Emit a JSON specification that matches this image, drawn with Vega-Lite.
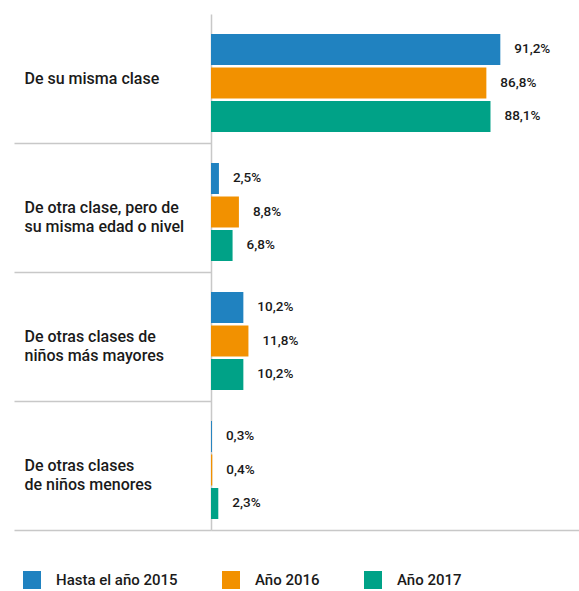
{
  "$schema": "https://vega.github.io/schema/vega-lite/v6.json",
  "width": 368,
  "height": 516,
  "autosize": {"type": "none"},
  "padding": {"left": 211, "top": 14, "right": 0, "bottom": 61},
  "config": {"view": {"stroke": null}, "font": "Roboto"},
  "data": {"values": [
    {"grupo": "De su misma clase", "serie": "Hasta el año 2015", "valor": 91.2},
    {"grupo": "De su misma clase", "serie": "Año 2016", "valor": 86.8},
    {"grupo": "De su misma clase", "serie": "Año 2017", "valor": 88.1},
    {"grupo": "De otra clase, pero de|su misma edad o nivel", "serie": "Hasta el año 2015", "valor": 2.5},
    {"grupo": "De otra clase, pero de|su misma edad o nivel", "serie": "Año 2016", "valor": 8.8},
    {"grupo": "De otra clase, pero de|su misma edad o nivel", "serie": "Año 2017", "valor": 6.8},
    {"grupo": "De otras clases de|niños más mayores", "serie": "Hasta el año 2015", "valor": 10.2},
    {"grupo": "De otras clases de|niños más mayores", "serie": "Año 2016", "valor": 11.8},
    {"grupo": "De otras clases de|niños más mayores", "serie": "Año 2017", "valor": 10.2},
    {"grupo": "De otras clases|de niños menores", "serie": "Hasta el año 2015", "valor": 0.3},
    {"grupo": "De otras clases|de niños menores", "serie": "Año 2016", "valor": 0.4},
    {"grupo": "De otras clases|de niños menores", "serie": "Año 2017", "valor": 2.3}
  ]},
  "transform": [
    {"calculate": "replace(format(datum.valor, '.1f'), '.', ',') + '%'", "as": "etiqueta"}
  ],
  "encoding": {
    "y": {
      "field": "grupo", "type": "nominal",
      "sort": ["De su misma clase", "De otra clase, pero de|su misma edad o nivel", "De otras clases de|niños más mayores", "De otras clases|de niños menores"],
      "scale": {"paddingInner": 0, "paddingOuter": 0},
      "axis": {
        "title": null,
        "bandPosition": 1,
        "tickSize": 197,
        "tickColor": "#c8c8c8",
        "tickWidth": 1.5,
        "domainColor": "#c8c8c8",
        "domainWidth": 1.5,
        "labelAlign": "left",
        "labelBaseline": "middle",
        "labelPadding": -10,
        "labelLimit": 0,
        "labelExpr": "split(datum.label, '|')",
        "labelLineHeight": 19,
        "labelFontSize": 16,
        "labelFont": "Roboto",
        "labelFontWeight": 500,
        "labelColor": "#1a1a1a",
        "grid": false
      }
    },
    "yOffset": {
      "field": "serie", "type": "nominal",
      "sort": ["Hasta el año 2015", "Año 2016", "Año 2017"],
      "scale": {"paddingInner": 0.0746, "paddingOuter": 0.4627, "align": 0.645}
    },
    "x": {
      "field": "valor", "type": "quantitative",
      "scale": {"domain": [0, 116], "nice": false},
      "axis": {"title": null, "labels": false, "ticks": false, "grid": false, "domainColor": "#c8c8c8", "domainWidth": 1.5}
    }
  },
  "layer": [
    {
      "mark": {"type": "bar"},
      "encoding": {
        "color": {
          "field": "serie", "type": "nominal",
          "scale": {"domain": ["Hasta el año 2015", "Año 2016", "Año 2017"], "range": ["#2082c0", "#f29100", "#00a287"]},
          "legend": {
            "title": null,
            "orient": "none",
            "direction": "horizontal",
            "legendX": -188,
            "legendY": 557,
            "symbolType": "square",
            "symbolSize": 324,
            "symbolStrokeWidth": 0,
            "symbolOpacity": 1,
            "labelFontSize": 15,
            "labelFont": "Roboto",
            "labelFontWeight": 500,
            "labelColor": "#1a1a1a",
            "labelOffset": 15,
            "columnPadding": 44
          }
        }
      }
    },
    {
      "mark": {"type": "text", "dx": 14, "align": "left", "baseline": "middle", "fontSize": 13.5, "font": "Roboto", "fontWeight": 500, "color": "#1a1a1a"},
      "encoding": {"text": {"field": "etiqueta"}}
    }
  ]
}
